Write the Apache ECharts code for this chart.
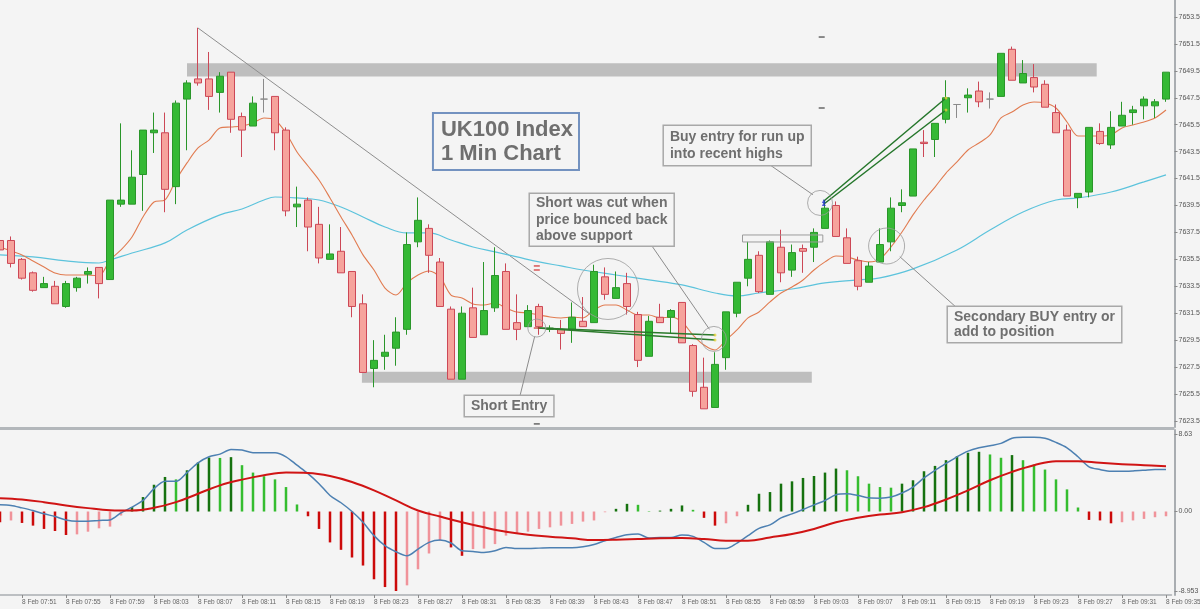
<!DOCTYPE html>
<html><head><meta charset="utf-8">
<script src="https://cdn.jsdelivr.net/npm/echarts@6/dist/echarts.min.js"></script>
<style>html,body{margin:0;padding:0;background:#f4f4f4}#c{width:1200px;height:609px}</style>
</head><body><div id="c"></div>
<script>
// ---------- categories ----------
const TIMES = [];
for (let m = 7 * 60 + 49; m <= 9 * 60 + 35; m++) {
  const h = Math.floor(m / 60), mm = m % 60;
  TIMES.push('8 Feb ' + String(h).padStart(2, '0') + ':' + String(mm).padStart(2, '0'));
}
const PRICE_TICKS = [7623.5,7625.5,7627.5,7629.5,7631.5,7633.5,7635.5,7637.5,7639.5,7641.5,7643.5,7645.5,7647.5,7649.5,7651.5,7653.5];
const MACD_TICKS = [8.63, 0, -8.953];
const MACD_TICK_LABELS = ['8.63', '0.00', '-8.953'];

// ---------- candles ----------
const OPEN = [7636.9,7636.9,7635.5,7634.5,7633.4,7633.5,7632.0,7633.4,7634.4,7634.9,
7634.0,7639.6,7639.6,7641.8,7644.9,7644.9,7640.9,7647.4,7648.9,7648.9,
7647.9,7649.4,7646.1,7645.4,7647.4,7647.6,7645.1,7639.4,7639.9,7638.1,
7635.5,7636.1,7634.6,7632.2,7627.4,7628.3,7628.9,7630.3,7636.8,7637.8,
7635.3,7631.8,7626.6,7631.9,7629.9,7631.9,7634.6,7630.8,7630.5,7632.0,
7630.3,7630.3,7630.3,7630.9,7630.8,7634.2,7632.6,7633.7,7631.4,7628.3,
7631.2,7631.2,7632.3,7629.1,7626.0,7624.5,7628.2,7631.5,7634.1,7635.8,
7632.9,7636.4,7634.7,7636.3,7636.4,7637.8,7639.5,7637.1,7635.4,7633.8,
7635.3,7636.8,7639.5,7640.2,7644.2,7644.4,7645.9,7647.0,7647.5,7648.0,
7647.4,7647.6,7651.1,7648.6,7649.0,7648.5,7646.4,7645.1,7640.1,7640.5,
7645.0,7644.0,7645.4,7646.4,7646.9,7646.9,7647.4];
const CLOSE = [7636.2,7635.2,7634.1,7633.2,7633.7,7632.2,7633.7,7634.1,7634.6,7633.7,
7639.9,7639.9,7641.6,7645.1,7645.1,7640.7,7647.1,7648.6,7648.6,7647.6,
7649.1,7645.9,7645.1,7647.1,7647.4,7644.9,7639.1,7639.6,7637.9,7635.6,
7635.9,7634.5,7632.0,7627.1,7628.0,7628.6,7630.1,7636.6,7638.4,7635.8,
7632.0,7626.6,7631.5,7629.7,7631.7,7634.3,7630.3,7630.3,7631.7,7630.5,
7630.4,7630.0,7631.2,7630.5,7634.6,7632.9,7633.4,7632.0,7628.0,7630.9,
7630.8,7631.7,7629.3,7625.7,7624.4,7627.7,7631.6,7633.8,7635.5,7633.1,
7636.8,7634.5,7636.0,7636.1,7637.5,7639.3,7637.2,7635.2,7633.5,7635.0,
7636.6,7639.3,7639.7,7643.7,7644.1,7645.6,7647.5,7647.0,7647.7,7647.2,
7647.4,7650.8,7648.8,7649.3,7648.3,7646.8,7644.9,7640.2,7640.4,7645.3,
7644.1,7645.3,7646.2,7646.6,7647.4,7647.2,7649.4];
const HIGH = [7637.1,7637.2,7635.6,7634.6,7634.2,7633.9,7633.9,7634.2,7634.9,7634.9,
7639.9,7645.6,7643.6,7645.1,7646.4,7646.4,7647.3,7648.8,7652.7,7650.9,
7649.4,7649.4,7646.4,7647.6,7648.9,7647.6,7645.3,7640.9,7640.1,7639.4,
7638.1,7637.9,7634.6,7632.9,7629.5,7629.9,7631.2,7637.5,7640.1,7638.1,
7635.6,7632.0,7632.0,7633.4,7635.3,7636.4,7635.2,7632.9,7632.1,7632.2,
7630.6,7631.0,7632.3,7632.7,7635.1,7634.9,7634.6,7634.5,7631.6,7631.3,
7632.2,7631.8,7632.3,7629.2,7628.2,7628.6,7631.6,7633.8,7636.8,7636.1,
7636.9,7637.7,7636.6,7636.6,7637.8,7639.9,7639.8,7637.8,7635.7,7635.3,
7637.8,7640.1,7640.7,7643.7,7645.1,7645.6,7648.8,7647.0,7648.2,7648.7,
7647.9,7650.8,7651.3,7650.3,7650.0,7648.8,7647.0,7645.5,7640.4,7645.3,
7645.6,7646.5,7647.2,7646.9,7647.6,7647.4,7649.4];
const LOW = [7636.0,7634.9,7634.0,7633.1,7633.4,7632.2,7631.9,7633.1,7633.7,7632.6,
7634.0,7639.4,7639.6,7639.1,7643.4,7639.0,7639.6,7643.6,7648.4,7646.6,
7646.4,7644.9,7643.1,7645.4,7646.4,7643.6,7638.7,7637.9,7636.1,7635.2,
7635.5,7634.5,7631.2,7627.1,7626.0,7627.3,7627.6,7629.9,7636.4,7634.5,
7632.0,7626.6,7626.6,7629.7,7629.9,7631.6,7630.3,7629.5,7630.5,7629.9,
7630.1,7628.8,7629.3,7630.5,7630.8,7632.5,7632.6,7631.4,7627.5,7628.3,
7630.8,7630.0,7629.3,7625.3,7624.4,7624.5,7627.3,7631.2,7633.5,7633.0,
7632.9,7633.8,7634.2,7634.5,7635.3,7637.8,7637.2,7635.2,7633.2,7633.8,
7635.3,7636.1,7639.0,7640.2,7643.1,7643.1,7645.6,7646.0,7646.4,7646.8,
7646.7,7647.6,7648.8,7648.6,7647.9,7646.8,7644.9,7640.2,7639.3,7640.1,
7644.0,7643.7,7645.4,7645.5,7645.9,7646.0,7647.2];

// ---------- moving averages ----------
const FAST_MA = [7636.42,7636.12,7635.83,7635.38,7634.93,7634.49,7634.34,7634.34,7634.34,7634.27,
7635.45,7636.2,7637.16,7638.65,7639.76,7639.91,7641.39,7642.66,7643.77,7644.36,
7645.26,7645.33,7645.4,7645.63,7646.0,7645.85,7644.88,7643.47,7642.43,7641.39,
7640.06,7638.65,7637.31,7635.83,7634.71,7633.37,7632.85,7633.75,7634.34,7634.64,
7634.19,7632.85,7632.63,7632.19,7632.11,7632.26,7631.89,7631.59,7631.52,7631.37,
7631.22,7631.15,7631.22,7631.15,7631.74,7632.11,7632.11,7631.74,7631.37,7631.37,
7631.15,7631.22,7630.85,7629.88,7629.14,7628.77,7629.51,7630.26,7631.15,7631.59,
7632.34,7633.0,7633.45,7633.97,7634.71,7635.31,7635.75,7635.68,7635.45,7635.31,
7635.53,7636.42,7637.53,7638.8,7639.91,7640.87,7641.91,7642.73,7643.62,7644.14,
7644.74,7646.0,7646.44,7646.96,7647.19,7647.11,7646.74,7645.7,7644.66,7644.66,
7644.66,7644.74,7645.26,7645.48,7645.7,7646.0,7646.59];
const SLOW_MA = [[0,7635.83],[3,7635.68],[6,7635.38],[9,7635.23],[10,7635.45],[12,7635.97],[15,7636.72],
[17,7637.68],[20,7638.8],[22,7639.24],[24,7639.91],[25,7640.13],[27,7640.06],[29,7639.91],[31,7639.39],
[33,7638.65],[35,7637.9],[37,7637.46],[39,7637.46],[41,7636.94],[43,7636.42],[45,7636.05],[47,7635.68],
[49,7635.31],[51,7635.01],[53,7634.71],[56,7634.34],[59,7633.97],[62,7633.6],[65,7633.0],[67,7632.78],
[69,7633.0],[72,7633.3],[75,7633.75],[78,7633.97],[80,7634.12],[83,7634.79],[87,7636.2],[90,7637.68],
[93,7639.02],[96,7639.91],[98,7640.06],[101,7640.5],[104,7641.25],[106,7641.77]];

// ---------- MACD ----------
const HIST = [-1.2,-1.0,-1.28,-1.58,-1.95,-2.18,-2.63,-2.56,-2.26,-1.88,
-1.69,-0.45,0.5,1.62,3.0,3.87,3.6,4.62,5.49,6.05,
6.0,6.09,5.19,4.36,3.95,3.6,2.74,0.79,-0.53,-1.95,
-3.46,-4.29,-5.15,-6.05,-7.59,-8.46,-8.9,-8.27,-6.47,-4.7,
-3.27,-4.02,-4.96,-4.21,-4.15,-3.65,-2.7,-2.4,-2.26,-1.95,
-1.77,-1.58,-1.39,-1.13,-1.0,-0.08,0.3,0.86,0.75,0.05,
0.1,0.3,0.68,0.19,-0.71,-1.58,-1.32,-0.53,0.75,1.99,
2.18,3.12,3.38,3.76,3.98,4.36,4.81,4.62,3.95,3.12,
2.74,2.67,3.12,3.5,4.51,5.11,5.75,6.2,6.58,6.69,
6.39,6.02,6.32,5.75,5.26,4.7,3.6,2.48,0.45,-0.94,
-1.0,-1.32,-1.2,-1.0,-0.83,-0.64,-0.53];
const MACD_LINE = [0.75,0.68,0.41,0.11,-0.26,-0.56,-0.94,-1.09,-1.09,-1.0,
-0.94,-0.15,0.49,1.24,2.56,3.38,3.38,4.36,5.45,6.13,
6.43,6.95,6.88,6.58,6.58,6.58,6.13,5.19,4.25,3.12,
1.8,0.98,0,-1.2,-2.7,-3.83,-4.51,-4.96,-4.21,-3.46,
-3.2,-3.53,-4.4,-4.47,-4.59,-4.4,-4.02,-4.14,-4.14,-4.1,
-4.06,-4.06,-4.06,-3.95,-3.7,-3.27,-2.9,-2.6,-2.52,-2.97,
-2.9,-2.9,-2.63,-2.78,-3.46,-4.14,-4.14,-3.53,-2.7,-1.88,
-1.5,-0.71,-0.26,0.23,0.75,1.24,1.88,1.99,1.8,1.54,
1.5,1.62,2.07,2.74,3.76,4.62,5.38,6.13,6.77,7.14,
7.37,7.63,8.2,8.31,8.31,8.2,7.74,7.14,6.13,5.0,
4.7,4.51,4.51,4.55,4.62,4.7,4.7];
const SIGNAL = [[0,1.5],[2,1.35],[4,1.05],[6,0.68],[8,0.38],[10,0.15],[12,0.11],[14,0.41],[16,1.05],[18,1.99],
[20,2.93],[22,3.57],[24,4.06],[26,4.36],[28,4.32],[30,3.98],[32,3.31],[34,2.37],[36,1.24],[38,0.11],
[40,-0.56],[42,-1.2],[44,-1.77],[46,-2.26],[48,-2.6],[50,-2.82],[52,-3.0],[54,-3.2],[56,-3.16],[58,-3.08],
[60,-3.0],[62,-2.97],[64,-3.08],[66,-3.27],[68,-3.27],[70,-2.9],[72,-2.52],[74,-1.95],[76,-1.2],[78,-0.71],
[80,-0.34],[82,-0.08],[84,0.49],[86,1.35],[88,2.37],[90,3.5],[92,4.44],[94,5.19],[96,5.64],[98,5.64],
[100,5.45],[102,5.3],[104,5.19],[106,5.08]];

// ---------- drawn objects (data coordinates: [bar index, price]) ----------
const BANDS = [[17.0, 99.7, 7650.06, 7649.07], [32.9, 73.8, 7627.16, 7626.34]];
const TREND = [[18, 7652.68], [54, 7631.2]];
const SHORT_TRADE_A = [[48.9, 7630.40], [65, 7629.88]];
const SHORT_TRADE_B = [[48.9, 7630.40], [65, 7629.51]];
const BUY_TRADE_A = [[74.9, 7639.83], [86, 7647.48]];
const BUY_TRADE_B = [[74.9, 7639.61], [86, 7646.59]];
const RANGE_BOX = [[67.5, 7637.31], [74.8, 7637.31], [74.8, 7636.79], [67.5, 7636.79], [67.5, 7637.31]];
const CIRCLES = [[48.8, 7630.4], [55.27, 7633.3], [64.9, 7629.59], [74.55, 7639.69], [80.6, 7636.49]];
const CIRCLE_SIZES = [18, 61, 25, 25, 36];
const CALLOUTS = [
  [[47.27, 7625.36], [48.6, 7629.75]],
  [[59.27, 7636.49], [64.5, 7630.3]],
  [[70.0, 7642.51], [73.9, 7640.3]],
  [[86.9, 7631.96], [81.8, 7635.7]]
];
const RED_MARKS = [[48.8, 7635.01], [48.8, 7634.71], [48.8, 7630.4]];
const DARK_MARKS = [[74.7, 7652.01], [74.7, 7646.74], [48.8, 7623.28]];
const NOTES = [
  {text: 'UK100 Index\n1 Min Chart', at: [39.45, 7646.30], size: 22, lh: 24, pad: [4, 5, 3, 7], border: '#7392c0', bw: 2},
  {text: 'Short was cut when\nprice bounced back\nabove support', at: [48.18, 7640.35], size: 14, lh: 16.5, pad: [1, 6, 1, 6], border: '#a8a8a8', bw: 1.5},
  {text: 'Buy entry for run up\ninto recent highs', at: [60.36, 7645.40], size: 14, lh: 16.5, pad: [3, 6, 3, 6], border: '#a8a8a8', bw: 1.5},
  {text: 'Secondary BUY entry or\nadd to position', at: [86.18, 7631.96], size: 14, lh: 15.5, pad: [2, 6, 2, 6], border: '#a8a8a8', bw: 1.5},
  {text: 'Short Entry', at: [42.27, 7625.36], size: 14, lh: 16, pad: [2, 6, 2, 6], border: '#a8a8a8', bw: 1.5}
];

// ---------- chart ----------
const FONT = "'Liberation Sans', Arial, sans-serif";
const N = TIMES.length;
const labelInterval = (idx) => (idx - 2) % 4 === 0;
const histColor = (v, i) => {
  const prev = i > 0 ? HIST[i - 1] : v;
  if (v >= 0) return v >= prev ? '#16720f' : '#35bd2f';
  return v <= prev ? '#cc0a0a' : '#f0939a';
};

const candleData = OPEN.map((o, i) => [o, CLOSE[i], LOW[i], HIGH[i]]);
const thin = (data, color, width, z) => ({
  type: 'line', xAxisIndex: 1, yAxisIndex: 0, data, symbol: 'none', silent: true, z,
  lineStyle: {color, width}
});

const series = [
  {type: 'custom', xAxisIndex: 1, yAxisIndex: 0, z: 1, silent: true, data: BANDS,
    encode: {x: [0, 1], y: [2, 3]},
    renderItem: (params, api) => {
      const p0 = api.coord([api.value(0), api.value(2)]);
      const p1 = api.coord([api.value(1), api.value(3)]);
      return {type: 'rect', shape: {x: p0[0], y: p0[1], width: p1[0] - p0[0], height: p1[1] - p0[1]}, style: {fill: '#bebebe'}};
    }},
  thin(TREND, '#8e8e8e', 1, 2),
  {type: 'line', xAxisIndex: 1, yAxisIndex: 0, data: SLOW_MA, symbol: 'none', smooth: 0.4, silent: true, z: 3,
    lineStyle: {color: '#5cc3dc', width: 1.2}},
  {type: 'line', xAxisIndex: 0, yAxisIndex: 0, data: FAST_MA, symbol: 'none', smooth: 0.3, silent: true, z: 3,
    lineStyle: {color: '#e17b50', width: 1.1}},
  {type: 'candlestick', xAxisIndex: 0, yAxisIndex: 0, data: candleData, barWidth: 7, z: 4,
    itemStyle: {color: '#35b935', color0: '#f6a39c', borderColor: '#2a962a', borderColor0: '#cc4756', borderColorDoji: '#8a8a8a', borderWidth: 1}},
  thin(RANGE_BOX, '#9c9c9c', 1, 5),
  thin(SHORT_TRADE_A, '#2b7a2b', 1.5, 6),
  thin(SHORT_TRADE_B, '#2b7a2b', 1.5, 6),
  thin(BUY_TRADE_A, '#24762a', 1.5, 6),
  thin(BUY_TRADE_B, '#24762a', 1.5, 6),
  ...CALLOUTS.map(c => thin(c, '#8c8c8c', 1, 6)),
  {type: 'scatter', xAxisIndex: 1, yAxisIndex: 0, data: CIRCLES, silent: true, z: 7,
    symbolSize: (v, p) => CIRCLE_SIZES[p.dataIndex],
    itemStyle: {color: 'rgba(0,0,0,0)', borderColor: '#9a9a9a', borderWidth: 1}},
  {type: 'scatter', xAxisIndex: 1, yAxisIndex: 0, data: RED_MARKS, silent: true, z: 8,
    symbol: 'rect', symbolSize: [6, 1.5], itemStyle: {color: '#d03030'}},
  {type: 'scatter', xAxisIndex: 1, yAxisIndex: 0, data: DARK_MARKS, silent: true, z: 8,
    symbol: 'rect', symbolSize: [6, 1.5], itemStyle: {color: '#444'}},
  {type: 'scatter', xAxisIndex: 1, yAxisIndex: 0, data: [BUY_TRADE_A[0], BUY_TRADE_B[0]], silent: true, z: 8,
    symbol: 'triangle', symbolSize: 4, itemStyle: {color: '#2233cc'}},
  {type: 'scatter', xAxisIndex: 1, yAxisIndex: 0, data: [BUY_TRADE_A[1], BUY_TRADE_B[1], SHORT_TRADE_A[1], SHORT_TRADE_B[1]], silent: true, z: 8,
    symbol: 'circle', symbolSize: 3, itemStyle: {color: '#e6d23a'}},
  // MACD panel
  {type: 'bar', xAxisIndex: 2, yAxisIndex: 1, barWidth: 2.5, silent: true, z: 2,
    data: HIST.map((v, i) => ({value: v, itemStyle: {color: histColor(v, i)}}))},
  {type: 'line', xAxisIndex: 2, yAxisIndex: 1, data: MACD_LINE, symbol: 'none', smooth: 0.3, silent: true, z: 3,
    lineStyle: {color: '#4d80b2', width: 1.5}},
  {type: 'line', xAxisIndex: 2, yAxisIndex: 1, data: SIGNAL, symbol: 'none', smooth: 0.4, silent: true, z: 4,
    lineStyle: {color: '#d01414', width: 2}}
];

const axisLineStyle = {show: true, onZero: false, lineStyle: {color: '#a9adb1', width: 2}};
const chart = echarts.init(document.getElementById('c'));
chart.setOption({
  animation: false,
  backgroundColor: '#f4f4f4',
  grid: [
    {left: -5.5, width: 1177, top: 0, height: 427, outerBoundsMode: 'none', containLabel: false},
    {left: -5.5, width: 1177, top: 430, height: 165, outerBoundsMode: 'none', containLabel: false}
  ],
  xAxis: [
    {type: 'category', gridIndex: 0, data: TIMES, boundaryGap: true, show: false},
    {type: 'value', gridIndex: 0, min: -0.5, max: N - 0.5, show: false},
    {type: 'category', gridIndex: 1, data: TIMES, boundaryGap: true,
      axisLine: {show: true, onZero: false, lineStyle: {color: '#a9adb1', width: 1.5}},
      axisTick: {show: true, interval: labelInterval, alignWithLabel: true, length: 3, lineStyle: {color: '#8a8a8a'}},
      axisLabel: {interval: labelInterval, align: 'left', fontSize: 6.5, color: '#666', fontFamily: FONT, margin: 4, hideOverlap: false},
      splitLine: {show: false}}
  ],
  yAxis: [
    {type: 'value', gridIndex: 0, position: 'right', offset: 3, min: 7623.05, max: 7654.76,
      axisLine: axisLineStyle,
      axisTick: {show: true, customValues: PRICE_TICKS, length: 3, lineStyle: {color: '#8a8a8a'}},
      axisLabel: {customValues: PRICE_TICKS, formatter: v => Number(v).toFixed(1), fontSize: 7, color: '#555', fontFamily: FONT, margin: 4},
      splitLine: {show: false}},
    {type: 'value', gridIndex: 1, position: 'right', offset: 3, min: -9.35, max: 9.13,
      axisLine: axisLineStyle,
      axisTick: {show: true, customValues: MACD_TICKS, length: 3, lineStyle: {color: '#8a8a8a'}},
      axisLabel: {customValues: MACD_TICKS, fontSize: 7, color: '#555', fontFamily: FONT, margin: 4,
        formatter: v => { const i = MACD_TICKS.findIndex(t => Math.abs(t - v) < 1e-6); return i >= 0 ? MACD_TICK_LABELS[i] : ''; }},
      splitLine: {show: false}}
  ],
  series
});

// annotation boxes placed through the chart's own scales
const toPx = (pt) => chart.convertToPixel({xAxisIndex: 1, yAxisIndex: 0}, pt);
const graphic = NOTES.map(n => {
  const p = toPx(n.at);
  return {type: 'text', x: p[0], y: p[1], z: 100, silent: true,
    style: {text: n.text, font: 'bold ' + n.size + 'px ' + FONT, fill: '#6f6f6f', lineHeight: n.lh,
      backgroundColor: '#f4f4f4', borderColor: n.border, borderWidth: n.bw, padding: n.pad,
      align: 'left', verticalAlign: 'top'}};
});
const sep = chart.convertToPixel({xAxisIndex: 1, yAxisIndex: 0}, [N - 0.5, 7623.05]);
graphic.push({type: 'rect', z: 90, silent: true, shape: {x: 0, y: sep[1], width: sep[0] + 3, height: 3}, style: {fill: '#b3b7bb'}});
chart.setOption({graphic});
</script></body></html>
